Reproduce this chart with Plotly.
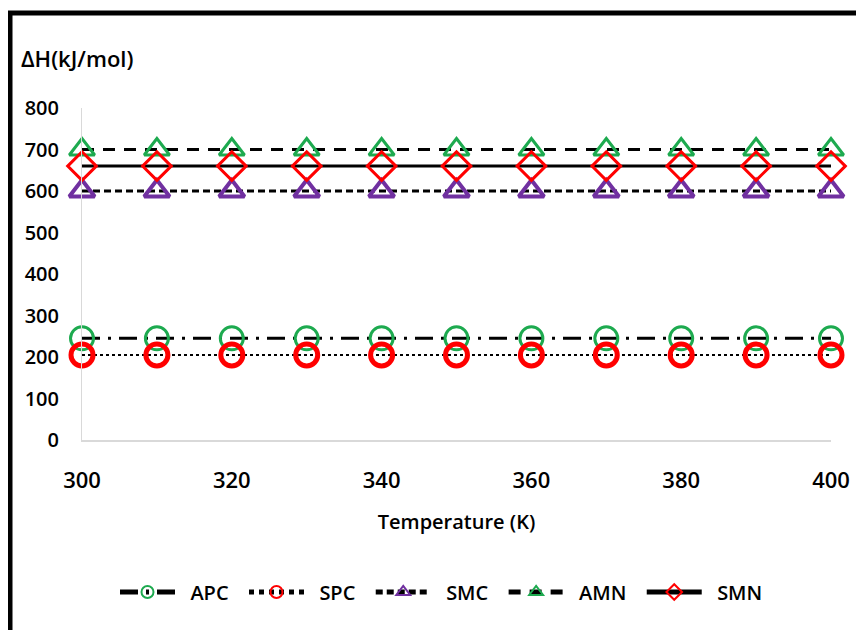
import plotly.graph_objects as go

temperature = [300, 310, 320, 330, 340, 350, 360, 370, 380, 390, 400]
apc = [245, 245, 245, 245, 245, 245, 245, 245, 245, 245, 245]
spc = [205, 205, 205, 205, 205, 205, 205, 205, 205, 205, 205]
smc = [600, 600, 600, 600, 600, 600, 600, 600, 600, 600, 600]
amn = [700, 700, 700, 700, 700, 700, 700, 700, 700, 700, 700]
smn = [660, 660, 660, 660, 660, 660, 660, 660, 660, 660, 660]
series_names = ["APC", "SPC", "SMC", "AMN", "SMN"]

GREEN = "#1DAA4F"
RED = "#FF0000"
PURPLE = "#7030A0"
FONT = "Open Sans"
NB = "\u00a0"

def lab(s):
    return NB * 2 + s + NB * 2

fig = go.Figure()
fig.add_trace(go.Scatter(x=temperature, y=apc, name=lab(series_names[0]), mode="lines+markers", cliponaxis=False,
                         line=dict(color="black", width=3, dash="18px,8px,3px,8px"),
                         marker=dict(symbol="circle-open", size=23, color=GREEN, line=dict(width=3, color=GREEN))))
fig.add_trace(go.Scatter(x=temperature, y=spc, name=lab(series_names[1]), mode="lines+markers", cliponaxis=False,
                         line=dict(color="black", width=2, dash="dot"),
                         marker=dict(symbol="circle-open", size=22, color=RED, line=dict(width=5, color=RED))))
fig.add_trace(go.Scatter(x=temperature, y=smc, name=lab(series_names[2]), mode="lines+markers", cliponaxis=False,
                         line=dict(color="black", width=3, dash="7px,4px"),
                         marker=dict(symbol="triangle-up-open", size=22, color=PURPLE, line=dict(width=4, color=PURPLE))))
fig.add_trace(go.Scatter(x=temperature, y=amn, name=lab(series_names[3]), mode="lines+markers", cliponaxis=False,
                         line=dict(color="black", width=3, dash="12px,9px"),
                         marker=dict(symbol="triangle-up-open", size=22, color=GREEN, line=dict(width=3, color=GREEN))))
fig.add_trace(go.Scatter(x=temperature, y=smn, name=lab(series_names[4]), mode="lines+markers", cliponaxis=False,
                         line=dict(color="black", width=3),
                         marker=dict(symbol="diamond-open", size=22, color=RED, line=dict(width=3, color=RED))))

OFF = 8  # page body offset
W, H = 856, 622
L, R, T, B = 74, 33, 100, 190
pw = W - L - R
ph = H - T - B

def px(xp):
    return (xp - OFF - L) / pw

def py(yp):
    return (H - B - (yp - OFF)) / ph

fig.update_layout(
    width=W, height=H,
    margin=dict(l=L, r=R, t=T, b=B),
    paper_bgcolor="white", plot_bgcolor="white",
    font=dict(family=FONT, size=18, color="black", weight=600),
    showlegend=True,
    legend=dict(orientation="h", x=(120 - OFF - 5) / W, xanchor="left", xref="container",
                y=1 - (592 - OFF) / H, yanchor="middle", yref="container",
                itemwidth=55, font=dict(size=20, family=FONT, weight=600),
                tracegroupgap=0, itemsizing="constant"),
    xaxis=dict(range=[300, 400], tickmode="array", tickvals=[300, 320, 340, 360, 380, 400],
               showgrid=False, zeroline=False, showline=True, linecolor="#D9D9D9", linewidth=2,
               ticks="", ticklabelstandoff=20, tickfont=dict(size=22),
               title=dict(text="Temperature (K)", standoff=22, font=dict(size=20, family=FONT, weight=600))),
    yaxis=dict(range=[0, 800], tickmode="array", tickvals=[0, 100, 200, 300, 400, 500, 600, 700, 800],
               showgrid=False, zeroline=False, showline=True, linecolor="#D9D9D9", linewidth=1,
               ticks="", ticklabelstandoff=18, tickfont=dict(size=20)),
    annotations=[dict(text="ΔH(kJ/mol)", xref="paper", yref="paper", x=px(19), y=py(58),
                      xanchor="left", yanchor="middle", showarrow=False,
                      font=dict(size=22, family=FONT, weight=600))],
    shapes=[
        dict(type="line", xref="paper", yref="paper", x0=px(8), x1=px(880), y0=py(13), y1=py(13),
             line=dict(color="black", width=5)),
        dict(type="line", xref="paper", yref="paper", x0=px(10), x1=px(10), y0=py(11), y1=py(650),
             line=dict(color="black", width=5)),
    ],
)

fig.write_html("out.html")
